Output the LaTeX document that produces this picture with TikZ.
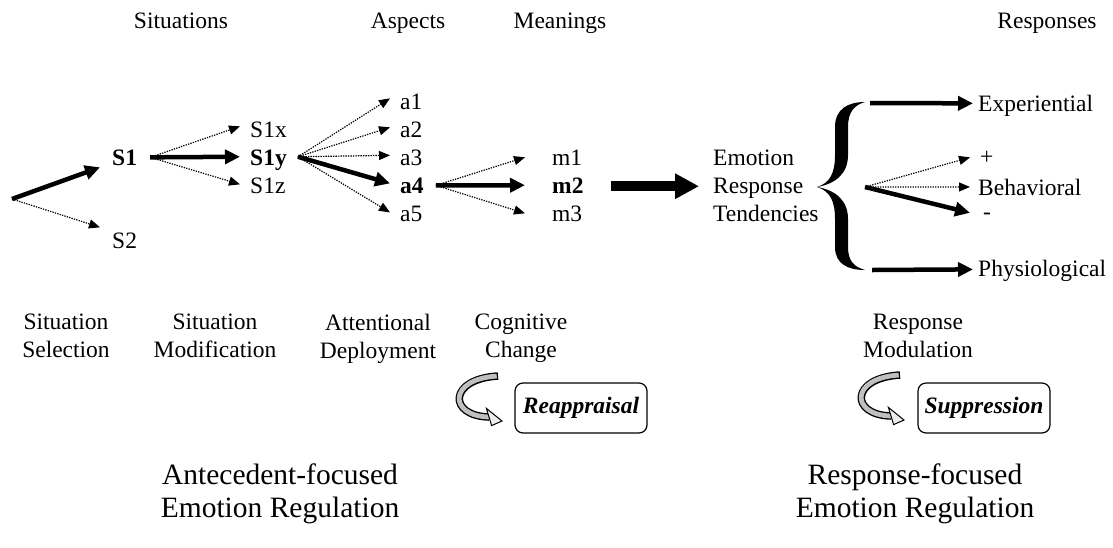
\documentclass[tikz,border=0pt]{standalone}
\usepackage{fontspec}
\setmainfont{Liberation Serif}
\usetikzlibrary{arrows.meta,calc}
\newcommand\fsz{\fontsize{23.5}{28}\selectfont}
\newcommand\fbig{\fontsize{29.5}{33}\selectfont}
\begin{document}
\begin{tikzpicture}[x=1pt,y=-1pt,
  lbl/.style={font=\fsz, inner sep=0pt},
  bigl/.style={font=\fbig, inner sep=0pt, align=center, anchor=north},
  two/.style={font=\fsz, inner sep=0pt, align=center, anchor=north},
  thn/.style={line width=1.2pt, dash pattern=on 1.3pt off 1.2pt, -{Triangle[length=11pt,width=9pt]}},
  thk/.style={line width=4.5pt, -{Triangle[length=15pt,width=14pt]}},
  bigarr/.style={line width=10pt, -{Triangle[length=24pt,width=24pt]}},
  rbox/.style={draw, rounded corners=8pt, line width=1.2pt, minimum width=132pt, minimum height=50pt, inner sep=0pt, font=\fsz\bfseries\itshape},
  halfbrace/.style={fill=black},
  curl/.pic={
    \draw[line width=7.5pt, black] (0,0) .. controls (-50,3) and (-50,40) .. (-9,41);
    \draw[line width=4.8pt, gray!50, shorten <=1.3pt] (0,0) .. controls (-50,3) and (-50,40) .. (-9,41);
    \draw[line width=1pt, fill=gray!15, line join=miter] (4,45) -- (-11.6,32.4) -- (-6.4,49.6) -- cycle;
  }
]
\useasboundingbox (0,0) rectangle (1113,547);

% headers
\node[lbl, anchor=base] (hSit) at (181,28) {Situations};
\node[lbl, anchor=base] (hAsp) at (408,28) {Aspects};
\node[lbl, anchor=base] (hMea) at (560,28) {Meanings};
\node[lbl, anchor=base] (hRes) at (1047,28) {Responses};

% situations
\coordinate (o) at (12,199);
\node[lbl, anchor=base west] (S1) at (112,165) {\bfseries S1};
\node[lbl, anchor=base west] (S2) at (112,248) {S2};
\draw[thk] (o) -- ($(S1.west)+(-12,10)$);
\draw[thn] (o) -- ($(S2.west)+(-12,-13)$);

\node[lbl, anchor=base west] (S1x) at (250,137) {S1x};
\node[lbl, anchor=base west] (S1y) at (250,165) {\bfseries S1y};
\node[lbl, anchor=base west] (S1z) at (250,193) {S1z};
\coordinate (s1o) at ($(S1.east)+(13,0)$);
\draw[thn] (s1o) -- ($(S1x.west)+(-10,-3)$);
\draw[thk] (s1o) -- ($(S1y.west)+(-10,-3)$);
\draw[thn] (s1o) -- ($(S1z.west)+(-10,-1)$);

% aspects
\node[lbl, anchor=base west] (a1) at (400,109) {a1};
\node[lbl, anchor=base west] (a2) at (400,137) {a2};
\node[lbl, anchor=base west] (a3) at (400,165) {a3};
\node[lbl, anchor=base west] (a4) at (400,193) {\bfseries a4};
\node[lbl, anchor=base west] (a5) at (400,221) {a5};
\coordinate (ao) at ($(S1y.east)+(11,-3)$);
\draw[thn] (ao) -- ($(a1.west)+(-10,-3)$);
\draw[thn] (ao) -- ($(a2.west)+(-10,-2)$);
\draw[thn] (ao) -- ($(a3.west)+(-10,-2)$);
\draw[thk] (ao) -- ($(a4.west)+(-10,-2)$);
\draw[thn] (ao) -- ($(a5.west)+(-10,-1)$);

% meanings
\node[lbl, anchor=base west] (m1) at (552,165) {m1};
\node[lbl, anchor=base west] (m2) at (552,193) {\bfseries m2};
\node[lbl, anchor=base west] (m3) at (552,221) {m3};
\coordinate (mo) at ($(a4.east)+(12,0)$);
\draw[thn] (mo) -- ($(m1.west)+(-27,0)$);
\draw[thk] (mo) -- ($(m2.west)+(-27,0)$);
\draw[thn] (mo) -- ($(m3.west)+(-27,0)$);

% emotion response tendencies
\node[lbl, align=left, anchor=west] (ert) at (713,186) {Emotion\\Response\\Tendencies};
\coordinate (ba) at ($(m2.east)+(27,1)$);
\draw[bigarr, shorten >=14pt] (ba) -- (ba -| ert.west);

% brace
\begin{scope}[shift={(817,187)}]
  \fill[halfbrace] (0,0) .. controls (13,-4) and (18,-14) .. (18,-32) -- (18,-60)
        .. controls (18,-78) and (31,-85) .. (48,-85)
        .. controls (38,-82) and (31,-76) .. (31,-60) -- (31,-32)
        .. controls (31,-13) and (18,-3) .. (0,0) -- cycle;
\end{scope}
\begin{scope}[shift={(817,187)}, yscale=-1]
  \fill[halfbrace] (0,0) .. controls (13,-4) and (18,-14) .. (18,-32) -- (18,-60)
        .. controls (18,-77) and (31,-83) .. (48,-83)
        .. controls (38,-80) and (31,-75) .. (31,-60) -- (31,-32)
        .. controls (31,-13) and (18,-3) .. (0,0) -- cycle;
\end{scope}
\coordinate (bt) at (870,103);
\coordinate (bo) at (865,187);
\coordinate (bb) at (872,270);

% responses
\node[lbl, anchor=base west] (exp) at (978,111) {Experiential};
\node[lbl, anchor=base west] (plus) at (980,164) {+};
\node[lbl, anchor=base west] (beh) at (978,195) {Behavioral};
\node[lbl, anchor=base west] (minus) at (983,219) {-};
\node[lbl, anchor=base west] (phy) at (978,276) {Physiological};
\draw[thk] (bt) -- ($(exp.west)+(-5,-2)$);
\draw[thn] (bo) -- ($(plus.west)+(-10,0)$);
\draw[thn] (bo) -- ($(beh.west)+(-8,0)$);
\draw[thk] (bo) -- ($(minus.west)+(-13,-3)$);
\draw[thk] (bb) -- ($(phy.west)+(-5,-1)$);

% process labels
\node[two] (lSS) at (66,314) {Situation\\Selection};
\node[two] (lSM) at (215,314) {Situation\\Modification};
\node[two] (lAD) at (378,314) {Attentional\\Deployment};
\node[two] (lCC) at (521,314) {Cognitive\\Change};
\node[two] (lRM) at (918,314) {Response\\Modulation};

% boxes and curled arrows
\node[rbox] (reap) at (581,408) {Reappraisal};
\node[rbox] (supp) at (984,408) {Suppression};
\pic at (498,376) {curl};
\pic at (900,375) {curl};

% bottom
\node[bigl] (ant) at (280,464) {Antecedent-focused\\Emotion Regulation};
\node[bigl] (resf) at (915,464) {Response-focused\\Emotion Regulation};
\end{tikzpicture}
\end{document}
